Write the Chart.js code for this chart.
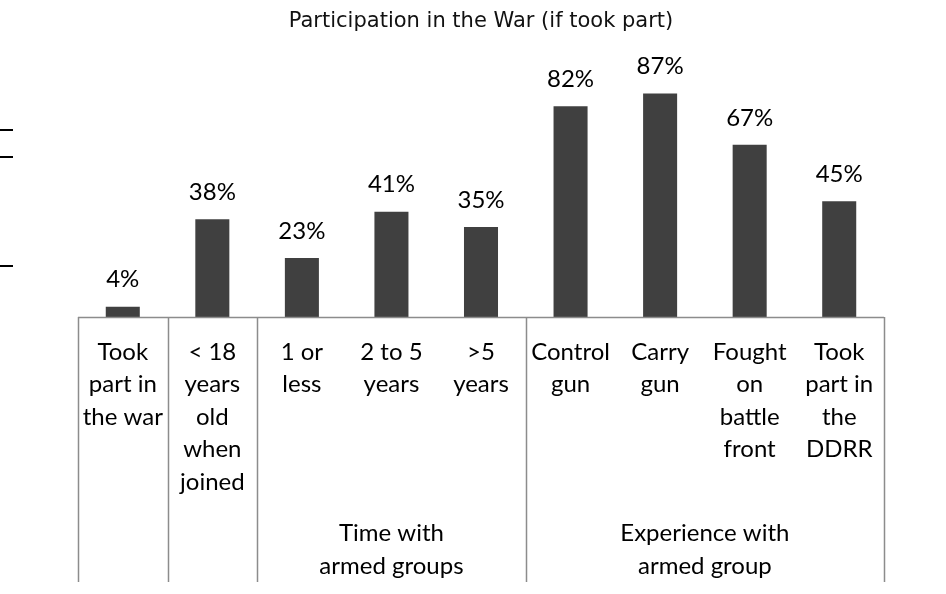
<!DOCTYPE html>
<html><head><meta charset="utf-8">
<script src="https://cdn.jsdelivr.net/npm/chart.js@4/dist/chart.umd.min.js"></script>
<style>html,body{margin:0;padding:0;background:#fff}#wrap{width:946px;height:594px;position:relative}</style>
</head><body><div id="wrap"><canvas id="c" width="946" height="594"></canvas></div>
<script>
const chartTitle = 'Participation in the War (if took part)';
const categories = [
  ['Took','part in','the war'],
  ['< 18','years','old','when','joined'],
  ['1 or','less'],
  ['2 to 5','years'],
  ['>5','years'],
  ['Control','gun'],
  ['Carry','gun'],
  ['Fought','on','battle','front'],
  ['Took','part in','the','DDRR']
];
const values = [4, 38, 23, 41, 35, 82, 87, 67, 45];
const groupNames = [null, null, ['Time with','armed groups'], ['Experience with','armed group']];
const groupStart = [0, 1, 2, 5];
const groupEnd = [0, 1, 4, 8];

const LABEL_FONT = 'Lato, "Open Sans", sans-serif';
const LABEL_SIZE = 24;

const decoPlugin = {
  id: 'deco',
  afterDraw(chart) {
    const ctx = chart.ctx;
    const xs = chart.scales.x;
    const area = chart.chartArea;
    const n = categories.length;
    const edge = (i) => {
      if (i <= 0) return area.left;
      if (i >= n) return area.right;
      return (xs.getPixelForValue(i - 1) + xs.getPixelForValue(i)) / 2;
    };
    ctx.save();
    // axis line and group separators
    ctx.strokeStyle = '#8c8c8c';
    ctx.lineWidth = 1.5;
    ctx.beginPath();
    ctx.moveTo(area.left, area.bottom + 0.5);
    ctx.lineTo(area.right, area.bottom + 0.5);
    const bottom = 582;
    const seps = [0];
    groupEnd.forEach(e => seps.push(e + 1));
    seps.forEach(i => {
      const x = Math.round(edge(i)) + 0.5;
      ctx.moveTo(x, area.bottom);
      ctx.lineTo(x, bottom);
    });
    ctx.stroke();
    // group labels
    ctx.fillStyle = '#000';
    ctx.font = LABEL_SIZE + 'px ' + LABEL_FONT;
    ctx.textAlign = 'center';
    ctx.textBaseline = 'middle';
    groupNames.forEach((g, k) => {
      if (!g) return;
      const cx = (edge(groupStart[k]) + edge(groupEnd[k] + 1)) / 2;
      g.forEach((line, j) => ctx.fillText(line, cx, 533 + j * 33));
    });
    // value labels
    const meta = chart.getDatasetMeta(0);
    meta.data.forEach((bar, i) => {
      ctx.fillText(values[i] + '%', bar.x, bar.y - 27);
    });
    // title
    ctx.font = '21px "DejaVu Sans", sans-serif';
    ctx.fillStyle = '#111';
    ctx.textBaseline = 'alphabetic';
    ctx.fillText(chartTitle, (area.left + area.right) / 2, 27);
    // stray marks at left edge
    ctx.strokeStyle = '#000';
    ctx.lineWidth = 2;
    ctx.beginPath();
    [130, 157, 266].forEach(y => { ctx.moveTo(0, y); ctx.lineTo(13, y); });
    ctx.stroke();
    ctx.restore();
  }
};

new Chart(document.getElementById('c'), {
  type: 'bar',
  data: {
    labels: categories,
    datasets: [{
      data: values,
      backgroundColor: '#404040',
      borderWidth: 0,
      barPercentage: 0.38,
      categoryPercentage: 1.0
    }]
  },
  options: {
    responsive: false,
    animation: false,
    devicePixelRatio: 1,
    layout: { padding: { top: 60, left: 78, right: 62, bottom: 0 } },
    plugins: { legend: { display: false }, title: { display: false }, tooltip: { enabled: false } },
    scales: {
      x: {
        offset: true,
        grid: { display: false, drawTicks: false },
        border: { display: false },
        ticks: {
          autoSkip: false, maxRotation: 0, minRotation: 0,
          padding: 19,
          color: '#000',
          font: { family: LABEL_FONT, size: LABEL_SIZE, lineHeight: '32.5px' }
        },
        afterFit(scale) { scale.height = 277; }
      },
      y: {
        display: false,
        min: 0, max: 100
      }
    }
  },
  plugins: [decoPlugin]
});
</script>
</body></html>
